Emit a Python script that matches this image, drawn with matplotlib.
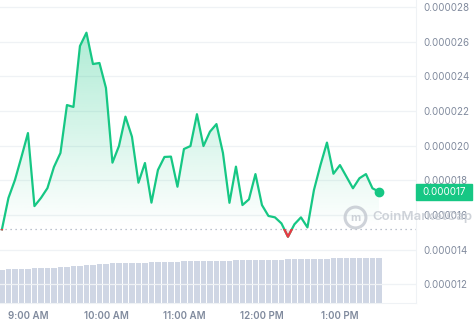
import numpy as np
import matplotlib.pyplot as plt
from matplotlib.patches import Rectangle
from matplotlib.lines import Line2D
from matplotlib.ticker import FuncFormatter

plt.rcParams['font.family'] = ['Inter', 'DejaVu Sans']

# minutes after midnight, 5-minute steps from 8:40 to 13:30
minutes = [520 + 5 * i for i in range(59)]

# price in units of 1e-6
price = [15.17, 16.98, 18.02, 19.35, 20.73, 16.51, 16.98, 17.55, 18.77, 19.58,
         22.35, 22.24, 25.76, 26.53, 24.72, 24.78, 23.34, 19.02, 19.98, 21.68,
         20.52, 17.86, 19.00, 16.71, 18.60, 19.35, 19.37, 17.63, 19.81, 19.98,
         21.82, 19.98, 20.81, 21.25, 19.58, 16.70, 18.79, 16.57, 16.90, 18.36,
         16.57, 15.94, 15.86, 15.51, 14.74, 15.46, 15.86, 15.28, 17.44, 18.88,
         20.18, 18.38, 18.88, 18.21, 17.54, 18.12, 18.36, 17.54, 17.34]

# volume, arbitrary units
volume = [33.0, 34.3, 34.3, 34.3, 34.3, 35.3, 35.3, 35.3, 35.3, 36.3,
          36.3, 37.0, 37.0, 38.0, 38.0, 38.7, 38.7, 40.0, 40.0, 40.0,
          40.5, 40.5, 40.5, 41.0, 41.0, 41.0, 41.0, 41.0, 42.0, 42.0,
          42.0, 42.0, 42.0, 42.0, 42.0, 42.0, 43.0, 43.0, 43.0, 43.0,
          43.0, 43.0, 43.0, 43.0, 44.0, 44.0, 44.0, 44.0, 44.0, 44.0,
          44.0, 45.5, 45.5, 45.5, 45.5, 45.5, 45.5, 45.5, 45.5]

open_price = 15.17
hour_ticks = [540, 600, 660, 720, 780]
hour_labels = ["9:00 AM", "10:00 AM", "11:00 AM", "12:00 PM", "1:00 PM"]
y_ticks = [12, 14, 16, 18, 20, 22, 24, 26, 28]

green = "#16c784"
red = "#ea3943"
grey_text = "#808a9d"
grid_col = "#eff2f5"

t = np.array(minutes)
p = np.array(price) * 1e-6
base = open_price * 1e-6
xmin, xmax = 518.5, 838.5
ymin, ymax = 10.91e-6, 28.42e-6

fig = plt.figure(figsize=(4.74, 3.25), dpi=100)
ax = fig.add_axes([0, 22 / 325, 416 / 474, 303 / 325])

# volume bars on their own axes underneath
vax = fig.add_axes([0, 22 / 325, 416 / 474, 303 / 325], sharex=ax)
vax.set_zorder(0)
ax.set_zorder(1)
ax.patch.set_visible(False)
vax.bar(t, volume, width=4.3, color="#cfd6e4", zorder=2)
vax.set_ylim(0, max(volume) * 303 / 45.5)
vax.axis("off")

for v in y_ticks:
    ax.axhline(v * 1e-6, color=grid_col, lw=0.9, zorder=0)

# gradient fill under the line
fill = ax.fill_between(t, p, base, facecolor="none", edgecolor="none")
grad = np.zeros((100, 1, 4))
grad[:, 0, 0:3] = (22 / 255, 199 / 255, 132 / 255)
grad[:, 0, 3] = np.linspace(0.0, 0.34, 100)
img = ax.imshow(grad, aspect="auto", origin="lower",
                extent=[t[0], t[-1], base, p.max()], zorder=1)
img.set_clip_path(fill.get_paths()[0], transform=ax.transData)
ax.fill_between(t, p, base, where=p < base, interpolate=True,
                color=red, alpha=0.12, lw=0, zorder=1)

ax.axhline(base, color="#a6aebf", lw=0.9, ls=(0, (1, 3)), zorder=2)

ax.plot(t, p, color=green, lw=1.6, zorder=3, solid_joinstyle="round")
red_line, = ax.plot(t, p, color=red, lw=1.6, zorder=4, solid_joinstyle="round")
clip = Rectangle((xmin, ymin), xmax - xmin, base - ymin, transform=ax.transData)
red_line.set_clip_path(clip)
ax.plot(t[-1], p[-1], "o", color=green, ms=6, zorder=5)

ax.set_xlim(xmin, xmax)
ax.set_ylim(ymin, ymax)
ax.set_xticks(hour_ticks)
ax.set_xticklabels(hour_labels)
ax.yaxis.tick_right()
ax.set_yticks([v * 1e-6 for v in y_ticks])
ax.yaxis.set_major_formatter(FuncFormatter(lambda v, pos: f"{v:.6f}"))
ax.tick_params(axis="x", length=0, pad=6, labelsize=7, labelcolor=grey_text)
ax.tick_params(axis="y", length=0, pad=5, labelsize=7, labelcolor=grey_text)
for lab in ax.get_xticklabels():
    lab.set_fontweight("semibold")
for side in ["top", "left"]:
    ax.spines[side].set_visible(False)
ax.spines["right"].set_color(grid_col)
ax.spines["bottom"].set_color(grid_col)

# current price tag
fig.patches.append(Rectangle((416 / 474, 1 - 200 / 325), 56 / 474, 16 / 325,
                             transform=fig.transFigure, color=green, zorder=6))
fig.text(444 / 474, 1 - 192 / 325, "0.000017", color="white", fontsize=7,
         ha="center", va="center", zorder=7)

# watermark
fig.add_artist(Line2D([355 / 474], [1 - 217 / 325], marker="o", ms=15, mfc="none",
                      mec="#c3c8d0", mew=2.2, transform=fig.transFigure, alpha=0.8))
fig.text(355 / 474, 1 - 218 / 325, "m", color="#c3c8d0", fontsize=8, fontweight="bold",
         ha="center", va="center", alpha=0.8)
fig.text(372 / 474, 1 - 217 / 325, "CoinMarketCap", color="#c3c8d0", fontsize=9.5,
         fontweight="semibold", ha="left", va="center", alpha=0.8)

fig.savefig("out.png", dpi=100)
